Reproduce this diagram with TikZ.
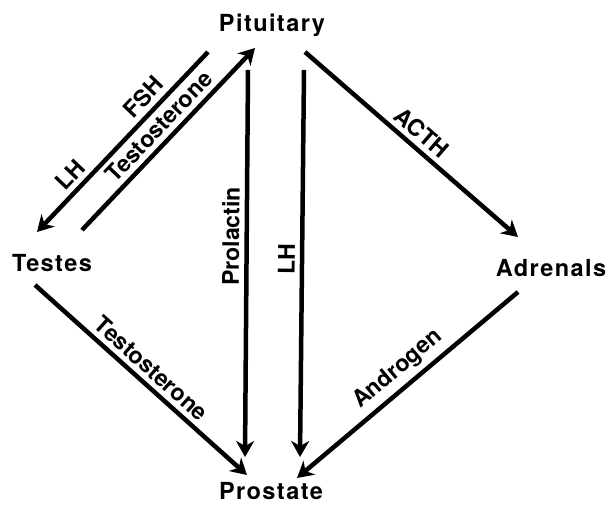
\documentclass[tikz,border=0pt]{standalone}
\usepackage{fontspec}
\setmainfont{TeX Gyre Heros}
\newfontfamily\organfont[LetterSpace=6]{TeX Gyre Heros}
\usetikzlibrary{arrows.meta}

\begin{document}
\begin{tikzpicture}[
			x=1pt, y=1pt,
			organ/.style={font=\organfont\fontsize{23.5}{28}\selectfont\bfseries, anchor=base, inner sep=0pt},
			hormone/.style={font=\fontsize{23}{28}\selectfont\bfseries, sloped, above, inner sep=5pt},
			arrow/.style={line width=4.5pt, -{Stealth[length=16pt, width=18pt, inset=5pt]}}
			]
			\useasboundingbox (0,0) rectangle (610,505);
			\node[organ] (pit) at (272,473) {Pituitary};
			\node[organ] (tes) at (52,233) {Testes};
			\node[organ] (adr) at (551,228) {Adrenals};
			\node[organ] (pro) at (271,5) {Prostate};
			
			\draw[arrow] ([shift={(-64,-20)}]pit.base) -- node[hormone, pos=0.31] {FSH} node[hormone, pos=0.74] {LH} ([shift={(-15,40)}]tes.base);
			\draw[arrow] ([shift={(30,42)}]tes.base) -- node[hormone, pos=0.51] {Testosterone} ([shift={(-17,-16)}]pit.base);
			\draw[arrow] ([shift={(-24,-38)}]pit.base) -- node[hormone, pos=0.43] {Prolactin} ([shift={(-26,43)}]pro.base);
			\draw[arrow] ([shift={(32,-38)}]pit.base) -- node[hormone, pos=0.49] {LH} ([shift={(29,43)}]pro.base);
			\draw[arrow] ([shift={(33,-20)}]pit.base) -- node[hormone, pos=0.5] {ACTH} ([shift={(-33,40)}]adr.base);
			\draw[arrow] ([shift={(-17,-13)}]tes.base) -- node[hormone, pos=0.5] {Testosterone} ([shift={(-24,25)}]pro.base);
			\draw[arrow] ([shift={(-33,-15)}]adr.base) -- node[hormone, pos=0.49] {Androgen} ([shift={(26,22)}]pro.base);
		\end{tikzpicture}
\end{document}
